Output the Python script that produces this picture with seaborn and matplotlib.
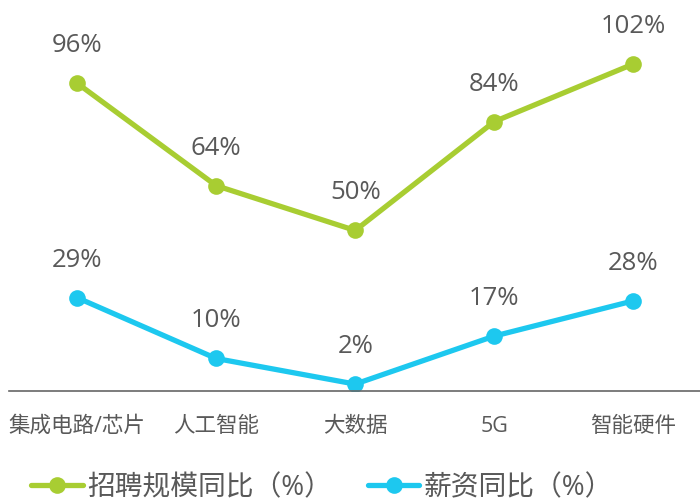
import pandas as pd
import matplotlib
matplotlib.use("Agg")
import matplotlib.pyplot as plt
import seaborn as sns

categories = ["集成电路/芯片", "人工智能", "大数据", "5G", "智能硬件"]
hiring_growth = [96, 64, 50, 84, 102]
salary_growth = [29, 10, 2, 17, 28]
series_names = ["招聘规模同比（%）", "薪资同比（%）"]
colors = ["#a8cd32", "#1dc8ef"]

sns.set_theme(style="white")
plt.rcParams["font.family"] = ["Open Sans", "Noto Sans CJK SC", "DejaVu Sans"]

fig = plt.figure(figsize=(7.0, 5.03), dpi=100)
ax = fig.add_axes([9 / 700, 1 - 390.5 / 503, 691 / 700, 390.5 / 503])

df_hire = pd.DataFrame({"cat": categories, "val": hiring_growth})
df_sal = pd.DataFrame({"cat": categories, "val": salary_growth})

for df, name, color in [(df_hire, series_names[0], colors[0]),
                        (df_sal, series_names[1], colors[1])]:
    sns.lineplot(data=df, x="cat", y="val", ax=ax, color=color, label=name,
                 linewidth=3.8, marker="o", markersize=12,
                 markeredgewidth=0, sort=False)
    for i, v in enumerate(df["val"]):
        ax.annotate(f"{v}%", (i, v), xytext=(0, 27), textcoords="offset points",
                    ha="center", va="center", fontsize=18.5, color="#595959")

ax.set_xlim(-0.49, 4.48)
ax.set_ylim(0, 122)
ax.set_xlabel("")
ax.set_ylabel("")
ax.set_yticks([])
ax.set_xticks(range(len(categories)))
ax.set_xticklabels(categories, fontsize=15.5, color="#595959")
ax.tick_params(axis="x", length=0, pad=18)
for s in ["top", "left", "right"]:
    ax.spines[s].set_visible(False)
ax.spines["bottom"].set_color("#666666")
ax.spines["bottom"].set_linewidth(1.2)
ax.patch.set_alpha(0)

handles, labels = ax.get_legend_handles_labels()
ax.get_legend().remove()
fig.legend(handles, labels, loc="center", bbox_to_anchor=(322 / 700, 15 / 503),
           ncol=2, frameon=False, fontsize=20, handlelength=1.85,
           handletextpad=0.15, columnspacing=1.3, labelcolor="#595959",
           borderpad=0.2)

fig.savefig("out.png", dpi=100)
